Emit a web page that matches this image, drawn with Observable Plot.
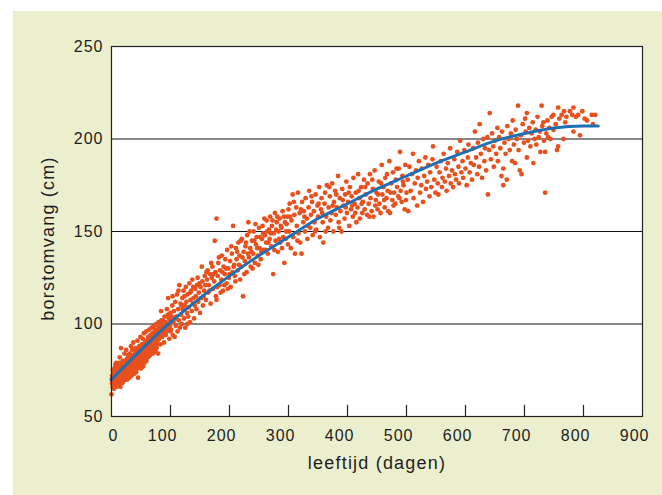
<!DOCTYPE html>
<html>
<head>
<meta charset="utf-8">
<script src="https://cdn.jsdelivr.net/npm/d3@7"></script>
<script src="https://cdn.jsdelivr.net/npm/@observablehq/plot@0.6"></script>
<style>
  html, body { margin: 0; padding: 0; background: #ffffff; }
  #panel { position: absolute; left: 13px; top: 11px; width: 649px; height: 484px; background: #ecefcd; }
  #panel svg { display: block; }
  g[aria-label="x-axis tick label"] text, g[aria-label="y-axis tick label"] text { font-size: 16px; letter-spacing: 1px; fill: #1e1e1e; }
  .title text { font-size: 18px; letter-spacing: 1.2px; fill: #1e1e1e; }
</style>
</head>
<body>
<div id="panel"></div>
<script>
// x axis ticks (leeftijd, dagen) and y axis ticks (borstomvang, cm)
const xTicks = [0, 100, 200, 300, 400, 500, 600, 700, 800, 900];
const yTicks = [50, 100, 150, 200, 250];
const gridLines = [100, 150, 200];

// fitted growth curve
const fitAge = [0, 50, 100, 150, 200, 250, 300, 350, 400, 450, 500, 550, 600, 650, 700, 750, 800, 825];
const fitGirth = [70, 86, 101, 114, 126, 137, 147, 157, 165, 173, 180, 187, 193, 199, 203, 206, 207, 207];

// scatter points [age (days), girth (cm)], by age band
const calves0to100 = [
[0,62],[1,68],[1,72],[2,66],[2,70],[3,74],[3,69],[4,65],[4,71],[5,76],[5,68],[6,72],[6,67],[7,70],[7,74],[8,79],[8,66],[9,71],[9,73],[10,69],[10,75],
[11,67],[11,72],[12,78],[12,70],[13,74],[13,68],[14,82],[14,71],[15,76],[15,66],[16,87],[16,73],[17,70],[17,78],[18,74],[18,68],[19,80],[19,72],[20,75],[20,69],
[21,71],[21,77],[22,84],[22,73],[23,76],[23,70],[24,79],[24,74],[25,86],[25,72],[26,77],[26,81],[27,74],[27,70],[28,78],[28,83],[29,76],[29,73],[30,80],[30,71],
[31,77],[31,84],[32,74],[32,80],[33,88],[33,76],[34,79],[34,72],[35,82],[35,86],[36,78],[36,75],[37,81],[37,90],[38,77],[38,73],[39,83],[39,80],[40,85],[40,76],
[41,79],[41,87],[42,82],[42,74],[43,84],[43,78],[44,91],[44,81],[45,71],[45,86],[46,80],[46,83],[47,88],[47,77],[48,85],[48,79],[49,93],[49,82],[50,84],[50,76],
[51,81],[51,89],[52,85],[52,78],[53,87],[53,92],[54,83],[54,80],[55,95],[55,86],[56,79],[56,84],[57,90],[57,82],[58,88],[58,85],[59,96],[59,80],[60,87],[60,91],
[61,84],[61,89],[62,93],[62,82],[63,88],[63,86],[64,97],[64,90],[65,83],[65,87],[66,94],[66,89],[67,85],[67,91],[68,98],[68,88],[69,86],[69,93],[70,90],[70,84],
[71,95],[71,88],[72,91],[72,99],[73,87],[73,93],[74,96],[74,90],[75,85],[75,94],[76,100],[76,92],[77,89],[77,95],[78,97],[78,91],[79,84],[79,93],[80,101],[80,96],
[81,92],[82,98],[83,89],[84,107],[84,95],[85,99],[86,93],[87,102],[88,96],[89,90],[90,104],[91,98],[92,94],[93,100],[94,108],[95,97],[96,114],[97,103],[98,92],[99,99],[100,106],[100,96],
[0.5,70],[2.5,75],[3.5,67],[6.5,78],[8.5,70],[11.5,75],[13.5,79],[16.5,69],[18.5,77],[21.5,80],[23.5,74],[26.5,72],[28.5,75],[31.5,81],[33.5,78],[36.5,83],[38.5,86],[41.5,82],[43.5,76],[46.5,87],
[48.5,81],[51.5,84],[53.5,77],[56.5,88],[58.5,82],[61.5,91],[63.5,84],[66.5,86],[68.5,92],[71.5,90],[73.5,97],[76.5,87],[78.5,94],[81.5,96],[83.5,100],[85.5,94],[87.5,98],[89.5,95],[91.5,101],[93.5,96],
[95.5,105],[97.5,99],[99.5,102],[4.5,73],[9.5,77],[14.5,73],[19.5,70],[24.5,77],[29.5,79],[34.5,76],[39.5,78],[44.5,84],[49.5,87],[54.5,89],[59.5,86],[64.5,92],[69.5,95],[74.5,92],[79.5,98],[84.5,102]
];
const young100to300 = [
[101,97],[102,104],[103,110],[104,94],[105,101],[106,107],[107,93],[108,112],[109,99],[110,104],[111,116],[112,96],[113,108],[114,102],[115,121],[116,98],[117,111],[118,105],[119,100],[120,114],
[121,108],[122,118],[123,103],[124,110],[125,98],[126,120],[127,112],[128,106],[129,116],[130,104],[131,109],[132,122],[133,101],[134,113],[135,118],[136,107],[137,124],[138,111],[139,114],[140,103],
[142,119],[143,115],[144,108],[145,121],[146,125],[147,112],[148,117],[150,106],[151,120],[152,114],[153,131],[154,123],[155,110],[157,118],[158,126],[159,121],[160,113],[162,124],[163,129],[164,117],
[165,121],[167,127],[168,111],[170,125],[171,131],[172,119],[174,123],[175,145],[176,128],[177,115],[178,157],[178,113],[180,126],[181,133],[183,121],[184,129],[186,124],[187,137],[189,118],[190,131],
[192,127],[193,135],[195,122],[196,140],[198,130],[199,125],[201,134],[202,120],[204,138],[205,128],[206,153],[208,132],[209,126],[211,141],[212,135],[214,129],[215,144],[217,137],[218,124],[220,131],
[221,146],[223,115],[224,139],[226,134],[227,142],[229,128],[230,148],[232,155],[233,136],[235,141],[236,131],[238,145],[240,138],[241,150],[243,133],[245,143],[246,147],[248,137],[250,152],[251,141],
[253,135],[255,146],[256,153],[258,140],[260,148],[262,144],[263,156],[265,138],[267,151],[268,146],[269,158],[271,142],[272,153],[274,127],[275,149],[277,160],[278,145],[280,155],[282,139],[283,150],
[285,157],[286,144],[288,152],[290,161],[291,147],[293,133],[294,155],[296,150],[298,158],[299,143],[300,162],
[103.5,115],[108.5,103],[113.5,118],[118.5,110],[123.5,115],[128.5,100],[133.5,117],[138.5,120],[141,110],[149,122],[156,115],[161,128],[166,118],[169,133],[173,127],[179,120],[182,136],[185,117],[188,128],[191,121],
[194,130],[197,119],[200,127],[203,142],[207,131],[210,123],[213,139],[216,132],[219,145],[222,136],[225,127],[228,144],[231,138],[234,150],[237,139],[239,130],[242,145],[244,154],[247,141],[249,132],
[252,147],[254,139],[257,149],[259,157],[261,140],[264,150],[266,144],[270,149],[273,156],[276,140],[279,151],[281,158],[284,146],[287,153],[289,141],[292,158],[295,146],[297,154]
];
const mid300to500 = [
[301,150],[302,165],[304,141],[305,156],[307,170],[308,147],[310,159],[311,138],[313,163],[314,153],[316,171],[317,149],[319,160],[320,144],[322,138],[323,166],[325,155],[326,161],[328,150],[329,168],
[331,157],[332,146],[334,163],[335,172],[337,152],[338,159],[340,166],[341,148],[343,161],[344,155],[346,170],[347,151],[349,164],[350,158],[352,174],[353,147],[355,162],[356,168],[358,155],[359,144],
[361,165],[362,171],[364,158],[365,175],[367,152],[368,163],[370,169],[371,156],[373,160],[374,176],[376,150],[377,166],[379,172],[380,159],[382,163],[384,180],[385,155],[387,168],[388,161],[390,150],
[391,173],[393,164],[395,157],[396,170],[398,177],[399,160],[401,166],[403,153],[404,174],[406,162],[407,169],[409,158],[410,179],[412,165],[414,171],[415,155],[417,163],[418,181],[420,168],[421,157],
[423,174],[425,160],[426,166],[428,178],[429,162],[431,170],[433,159],[434,176],[436,165],[438,181],[439,168],[441,161],[443,173],[444,158],[446,183],[448,167],[449,171],[451,162],[453,177],[454,165],
[456,160],[458,186],[459,170],[461,174],[463,163],[464,179],[466,168],[468,172],[469,161],[471,188],[472,160],[474,176],[476,167],[477,182],[479,171],[481,165],[482,178],[484,174],[486,169],[487,184],
[489,193],[490,172],[492,166],[493,180],[495,175],[497,162],[498,186],[500,171],
[303,158],[309,166],[315,145],[321,162],[327,158],[333,153],[339,169],[345,150],[351,165],[357,160],[363,150],[369,174],[375,164],[381,170],[386,152],[392,167],[397,163],[402,171],[408,164],[413,160],
[419,172],[424,165],[430,174],[437,158],[442,178],[447,164],[452,170],[457,176],[462,167],[467,181],[473,171],[478,164],[483,184],[488,168],[494,177],[499,167]
];
const old500to830 = [
[502,178],[503,161],[505,185],[507,172],[509,181],[511,192],[512,168],[514,176],[516,183],[518,164],[519,179],[521,188],[523,171],[525,175],[526,184],[528,166],[530,180],[532,190],[533,173],[535,177],
[537,186],[539,169],[540,182],[542,174],[544,189],[545,196],[547,178],[549,171],[551,185],[553,176],[554,170],[556,182],[558,188],[560,174],[561,179],[563,192],[565,177],[567,184],[568,172],[570,187],
[572,180],[574,195],[575,176],[577,183],[579,174],[581,189],[582,181],[584,178],[586,193],[588,185],[589,176],[591,199],[593,182],[595,188],[596,179],[598,194],[600,184],[602,175],[604,190],[605,197],
[607,182],[609,187],[611,178],[613,195],[614,186],[616,204],[618,190],[620,181],[621,198],[623,185],[624,208],[626,192],[628,179],[630,200],[632,188],[633,195],[635,183],[637,201],[638,170],[640,194],
[641,214],[643,189],[645,203],[647,196],[648,185],[650,199],[652,192],[654,206],[655,188],[657,201],[659,195],[661,180],[662,204],[664,175],[664,184],[666,198],[668,192],[670,178],[671,207],[673,200],
[675,194],[677,203],[679,188],[680,210],[682,197],[684,187],[685,205],[687,200],[689,218],[690,194],[692,183],[694,202],[695,181],[697,208],[699,198],[701,211],[702,204],[704,190],[704,214],[706,199],
[708,206],[710,196],[712,203],[714,209],[715,187],[717,200],[719,205],[720,197],[722,212],[724,201],[726,204],[727,193],[729,218],[730,207],[732,209],[733,199],[735,171],[735,193],[737,203],[739,210],
[740,201],[742,206],[744,200],[746,212],[749,213],[749,205],[753,208],[755,194],[757,196],[757,217],[759,211],[763,213],[766,200],[767,215],[769,209],[771,212],[777,215],[781,213],[783,217],[783,204],
[787,212],[791,213],[794,202],[798,215],[802,211],[806,210],[814,213],[816,208],[820,213]
];

const points = [...calves0to100, ...young100to300, ...mid300to500, ...old500to830];
const fit = fitAge.map((a, i) => ({age: a, girth: fitGirth[i]}));

const chart = Plot.plot({
  width: 649,
  height: 484,
  marginLeft: 98,
  marginRight: 20,
  marginTop: 35,
  marginBottom: 79,
  style: {background: "transparent", fontFamily: "'Liberation Sans', Arial, sans-serif", color: "#1e1e1e"},
  x: {domain: [0, 900], label: null},
  y: {domain: [50, 250], label: null},
  marks: [
    Plot.frame({fill: "white", stroke: "none"}),
    Plot.ruleY(gridLines, {stroke: "#111", strokeWidth: 1.2}),
    Plot.dot(points, {x: d => d[0], y: d => d[1], r: 2.4, fill: "#e8501d", stroke: "none"}),
    Plot.line(fit, {x: "age", y: "girth", curve: "monotone-x", stroke: "#1f6fb4", strokeWidth: 3}),
    Plot.frame({stroke: "#222", strokeWidth: 1.2}),
    Plot.ruleX(xTicks.slice(1, -1), {x: d => d, y1: 50, y2: 56, stroke: "#222", strokeWidth: 1.2}),
    Plot.axisX(xTicks, {tickSize: 0, tickPadding: 13, textAnchor: "end", dx: 7, label: null}),
    Plot.axisY(yTicks, {tickSize: 0, tickPadding: 8, label: null}),
    Plot.text(["leeftijd (dagen)"], {text: d => d, frameAnchor: "bottom", dy: 52, className: "title"}),
    Plot.text(["borstomvang (cm)"], {text: d => d, frameAnchor: "left", dx: -63, dy: 7, rotate: -90, textAnchor: "middle", className: "title"})
  ]
});
document.getElementById("panel").appendChild(chart);
</script>
</body>
</html>
